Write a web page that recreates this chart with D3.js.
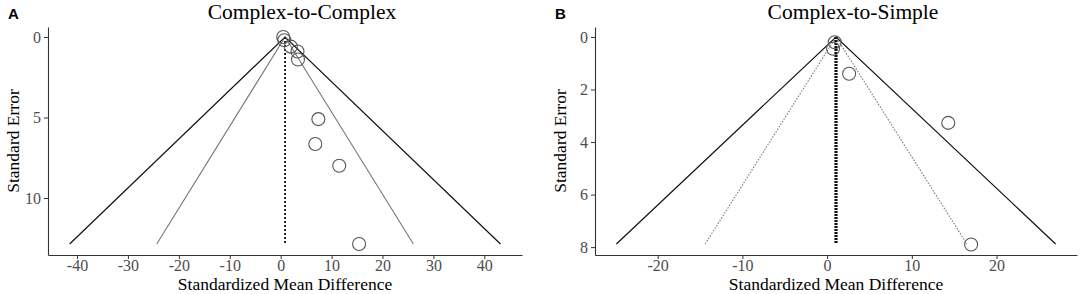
<!DOCTYPE html>
<html>
<head>
<meta charset="utf-8">
<script src="https://cdn.jsdelivr.net/npm/d3@7"></script>
<style>
  body { margin: 0; background: #fff; }
  svg { display: block; }
  .tick text { font-family: "Liberation Serif", serif; font-size: 16px; fill: #4d4d4d; }
  .tick line { stroke: #333; }
  .domain { stroke: #333; stroke-width: 1.1; }
</style>
</head>
<body>
<svg width="1084" height="294"></svg>
<script>
// panel A: Complex-to-Complex
var aTitle = "Complex-to-Complex";
var aMean = 0.86;
var aSeMax = 12.86;
var aSmd = [0.5, 0.7, 2.0, 3.3, 3.4, 7.4, 6.8, 11.5, 15.4];
var aSe  = [0.0, 0.2, 0.6, 0.9, 1.4, 5.1, 6.65, 8.0, 12.86];
var aXTicks = [-40, -30, -20, -10, 0, 10, 20, 30, 40];
var aYTicks = [0, 5, 10];

// panel B: Complex-to-Simple
var bTitle = "Complex-to-Simple";
var bMean = 1.05;
var bSeMax = 7.88;
var bSmd = [0.9, 0.7, 2.6, 14.3, 17.0];
var bSe  = [0.2, 0.45, 1.4, 3.27, 7.9];
var bXTicks = [-20, -10, 0, 10, 20];
var bYTicks = [0, 2, 4, 6, 8];

var svg = d3.select("svg");

function funnel(opt){
    var x = d3.scaleLinear().domain(opt.xDom).range([opt.left, opt.right]);
    var y = d3.scaleLinear().domain(opt.yDom).range([27, 255]);
    var mid = (opt.left + opt.right) / 2;
    var g = svg.append("g");

    // panel letter
    g.append("text").attr("x", opt.left - 40).attr("y", 19)
        .attr("font-family", "Liberation Sans, Arial, sans-serif")
        .attr("font-weight", "bold").attr("font-size", 15).text(opt.letter);

    g.append("text").attr("x", mid + 17).attr("y", 19)
        .attr("text-anchor", "middle")
        .attr("font-family", "Liberation Serif, serif").attr("font-size", 21.5)
        .text(opt.title);

    // 99.9% and 95% limits
    var lines = [
        {z: 3.29, stroke: "#111", w: 1.2, dash: null},
        {z: 1.96, stroke: "#777", w: 1.1, dash: opt.innerDash}
    ];
    lines.forEach(function(l){
        var pts = [[opt.mean - l.z * opt.seMax, opt.seMax], [opt.mean, 0], [opt.mean + l.z * opt.seMax, opt.seMax]];
        g.append("path")
            .attr("d", d3.line().x(d => x(d[0])).y(d => y(d[1]))(pts))
            .attr("fill", "none").attr("stroke", l.stroke)
            .attr("stroke-width", l.w)
            .attr("stroke-dasharray", l.dash);
    });

    // mean line
    g.append("line")
        .attr("x1", x(opt.mean)).attr("x2", x(opt.mean))
        .attr("y1", y(0)).attr("y2", y(opt.seMax))
        .attr("stroke", "#111").attr("stroke-width", opt.meanW)
        .attr("stroke-dasharray", opt.meanDash);

    // points
    g.selectAll("circle.pt").data(opt.smd).enter().append("circle")
        .attr("class", "pt")
        .attr("cx", d => x(d))
        .attr("cy", (d, i) => y(opt.se[i]))
        .attr("r", 6.5)
        .attr("fill", "none").attr("stroke", "#555").attr("stroke-width", 1.1);

    // axes
    svg.append("g").attr("transform", "translate(0,255)")
        .call(d3.axisBottom(x).tickValues(opt.xTicks).tickFormat(d => String(d))
            .tickSize(4).tickPadding(1).tickSizeOuter(0));
    svg.append("g").attr("transform", "translate(" + opt.left + ",0)")
        .call(d3.axisLeft(y).tickValues(opt.yTicks).tickFormat(d => String(d))
            .tickSize(4).tickPadding(3).tickSizeOuter(0));

    g.append("text").attr("x", mid).attr("y", 290)
        .attr("text-anchor", "middle")
        .attr("font-family", "Liberation Serif, serif").attr("font-size", 17.5)
        .text("Standardized Mean Difference");

    g.append("text")
        .attr("transform", "translate(" + (opt.left - 29) + ",141) rotate(-90)")
        .attr("text-anchor", "middle")
        .attr("font-family", "Liberation Serif, serif").attr("font-size", 17.5)
        .text("Standard Error");
}

funnel({letter: "A", title: aTitle, mean: aMean, seMax: aSeMax, smd: aSmd, se: aSe,
    xTicks: aXTicks, yTicks: aYTicks, xDom: [-45.7, 47.4], yDom: [-0.62, 13.54],
    left: 48, right: 522, innerDash: null, meanW: 1.8, meanDash: "2,2"});

funnel({letter: "B", title: bTitle, mean: bMean, seMax: bSeMax, smd: bSmd, se: bSe,
    xTicks: bXTicks, yTicks: bYTicks, xDom: [-27.4, 29.5], yDom: [-0.38, 8.30],
    left: 595, right: 1077, innerDash: "1.5,1.5", meanW: 3.2, meanDash: "2,1"});
</script>
</body>
</html>
